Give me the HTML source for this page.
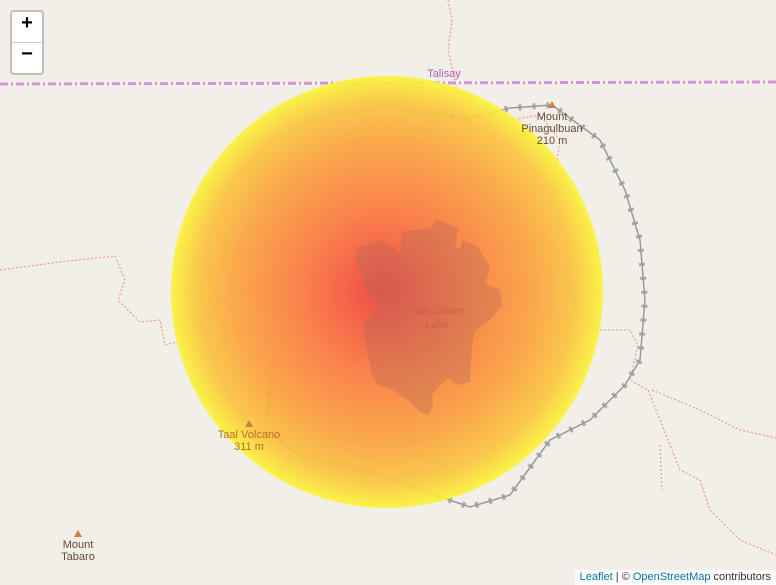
<!DOCTYPE html>
<html><head><meta charset="utf-8"><style>
body{margin:0;width:776px;height:585px;overflow:hidden;background:#f2efe9;font-family:"Liberation Sans",sans-serif}
#map{position:relative;width:776px;height:585px}
.zoom{position:absolute;left:10px;top:10px;width:30px;background:#fff;border:2px solid rgba(0,0,0,.2);border-radius:4px;background-clip:padding-box}
.zoom div{height:30px;line-height:30px;text-align:center;font:bold 20px "Liberation Sans",sans-serif;color:#000}
.zoom div+div{border-top:1px solid #ccc}
.attr{position:absolute;right:0;bottom:0;background:rgba(255,255,255,.8);font-size:11px;padding:0 5px;color:#333;line-height:15px}
.attr a{color:#0078a8;text-decoration:none}
</style></head><body>
<div id="map">
<svg width="776" height="585" style="position:absolute;left:0;top:0">
<defs>
<radialGradient id="heat" cx="387" cy="292" r="216" fx="380" fy="292" gradientUnits="userSpaceOnUse">
<stop offset="0" stop-color="#e8443c"/>
<stop offset="0.15" stop-color="#f5573f"/>
<stop offset="0.4" stop-color="#fb7d40"/>
<stop offset="0.7" stop-color="#fba440"/>
<stop offset="0.88" stop-color="#fbc640"/>
<stop offset="1" stop-color="#fbf43c"/>
</radialGradient>
</defs>
<g fill="none" stroke="#f08a80" stroke-width="1" stroke-dasharray="2,2">
<path d="M0,270 L60,262 L115,256 L125,280 L118,300 L140,322 L160,320 L165,345 L185,340 L220,300 L270,280 L300,270"/>
<path d="M448,0 L452,20 L448,50 L455,80 L458,100"/>
<path d="M455,125 L500,122 L540,115 L560,140 L552,195"/>
<path d="M522,205 L545,235 L565,260 L572,300 L598,330 L630,330 L638,345 L630,380 L648,390 L660,420 L670,445 L680,470 L700,480 L710,510 L740,540 L776,555"/>
<path d="M652,390 L700,410 L740,430 L776,438"/>
<path d="M660,445 L662,490"/>
</g>
<path d="M0,84 L776,82" stroke="#c87ed0" stroke-width="3" stroke-dasharray="8,3,2,3" fill="none" opacity=".8"/>
<path d="M422,113 L470,118 L510,108 L552,105 L600,140 L625,190 L640,240 L645,300 L640,360 L625,385 L590,420 L550,440 L510,495 L470,507 L420,490 L380,475 L340,465 L300,455 L265,430 L270,390 L275,352" fill="none" stroke="#999" stroke-width="1.5"/>
<path d="M422,113 L470,118 L510,108 L552,105 L600,140 L625,190 L640,240 L645,300 L640,360 L625,385 L590,420 L550,440 L510,495 L470,507 L420,490 L380,475 L340,465 L300,455 L265,430 L270,390 L275,352" fill="none" stroke="#999" stroke-width="6" stroke-dasharray="3,11" opacity=".8"/>
<circle cx="387" cy="292" r="216" fill="url(#heat)" opacity=".93"/>
<path d="M356,248 L382,240 L400,252 L402,232 L430,228 L436,219 L458,228 L455,248 L460,248 L463,240 L478,247 L490,268 L485,284 L500,290 L502,305 L490,320 L475,330 L472,345 L470,382 L458,385 L448,378 L440,385 L432,395 L433,408 L428,415 L420,412 L408,400 L393,390 L378,385 L372,375 L368,356 L362,325 L373,313 L380,305 L375,300 L365,290 L362,275 L356,262 Z" fill="#b06a58" opacity=".35"/>
<g font-size="11" text-anchor="middle">
<text x="444" y="77" fill="#b05cc0">Talisay</text>
<polygon points="552,101 548,108 556,108" fill="#d08040"/>
<text x="552" y="120" fill="#6a4a30">Mount</text>
<text x="552" y="132" fill="#6a4a30">Pinagulbuan</text>
<text x="552" y="144" fill="#6a4a30">210 m</text>
<polygon points="249,420 245,427 253,427" fill="#d08040"/>
<text x="249" y="438" fill="#c06a30">Taal Volcano</text>
<text x="249" y="450" fill="#c06a30">311 m</text>
<polygon points="78,530 74,537 82,537" fill="#d08040"/>
<text x="78" y="548" fill="#6a4a30">Mount</text>
<text x="78" y="560" fill="#6a4a30">Tabaro</text>
<text x="437" y="314" fill="#b84a4a" font-style="italic" opacity=".5">Taal Crater</text>
<text x="437" y="328" fill="#b84a4a" font-style="italic" opacity=".5">Lake</text>
</g>
</svg>
<div class="zoom">
<div>+</div>
<div>−</div>
</div>
<div class="attr"><a>Leaflet</a> | © <a>OpenStreetMap</a> contributors</div>
</div>
</body></html>
